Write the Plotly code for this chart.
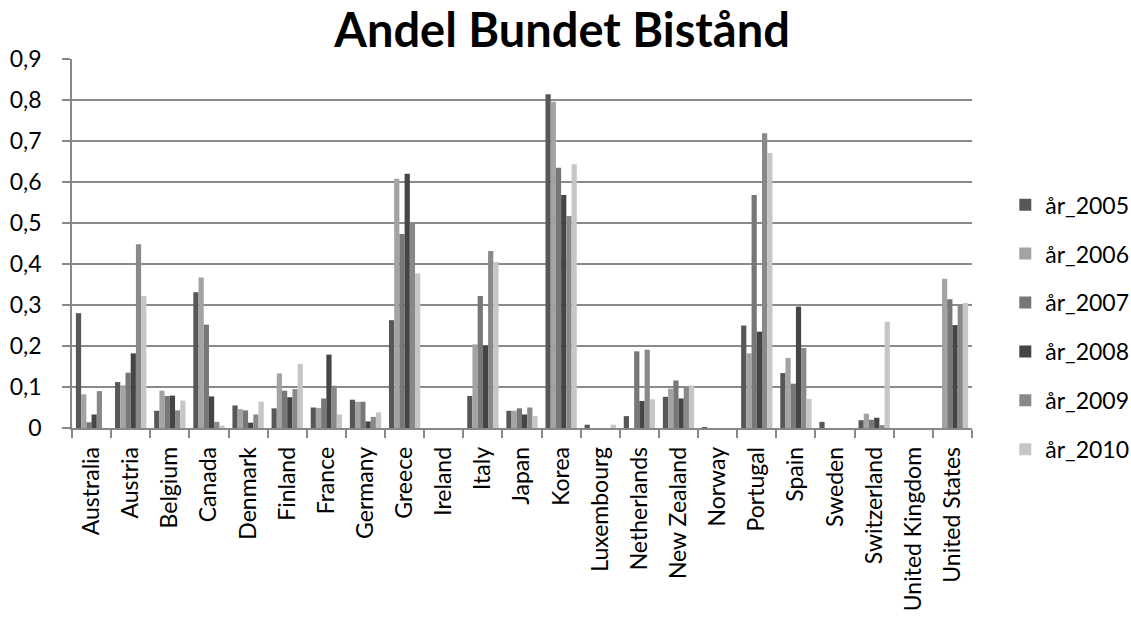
import plotly.graph_objects as go

countries = ["Australia", "Austria", "Belgium", "Canada", "Denmark", "Finland", "France",
             "Germany", "Greece", "Ireland", "Italy", "Japan", "Korea", "Luxembourg",
             "Netherlands", "New Zealand", "Norway", "Portugal", "Spain", "Sweden",
             "Switzerland", "United Kingdom", "United States"]

y2005 = [0.280, 0.112, 0.042, 0.331, 0.055, 0.048, 0.050, 0.069, 0.263, 0, 0.078, 0.042,
         0.814, 0.008, 0.029, 0.076, 0.002, 0.250, 0.134, 0.015, 0.019, 0, 0]
y2006 = [0.082, 0.104, 0.091, 0.367, 0.046, 0.133, 0.049, 0.064, 0.608, 0, 0.204, 0.042,
         0.796, 0, 0, 0.096, 0, 0.182, 0.171, 0, 0.035, 0, 0.364]
y2007 = [0.014, 0.135, 0.078, 0.252, 0.043, 0.091, 0.072, 0.064, 0.473, 0, 0.322, 0.048,
         0.635, 0, 0.187, 0.116, 0, 0.568, 0.108, 0, 0.020, 0, 0.314]
y2008 = [0.033, 0.182, 0.079, 0.077, 0.013, 0.075, 0.179, 0.016, 0.620, 0, 0.201, 0.033,
         0.568, 0, 0.066, 0.072, 0, 0.235, 0.296, 0, 0.025, 0, 0.251]
y2009 = [0.090, 0.448, 0.043, 0.015, 0.033, 0.095, 0.103, 0.027, 0.500, 0, 0.432, 0.050,
         0.517, 0, 0.191, 0.100, 0, 0.719, 0.195, 0, 0.007, 0, 0.300]
y2010 = [0, 0.322, 0.067, 0.006, 0.064, 0.156, 0.033, 0.038, 0.377, 0, 0.405, 0.029,
         0.643, 0.008, 0.070, 0.104, 0, 0.671, 0.071, 0, 0.259, 0, 0.305]

series_names = ["år_2005", "år_2006", "år_2007", "år_2008", "år_2009", "år_2010"]
series_values = [y2005, y2006, y2007, y2008, y2009, y2010]
colors = ["#575757", "#a3a3a3", "#777777", "#454545", "#898989", "#c6c6c6"]

fig = go.Figure()
for name, vals, col in zip(series_names, series_values, colors):
    fig.add_trace(go.Bar(x=countries, y=vals, name=name, legendgroup=name,
                         marker=dict(color=col, line=dict(width=0))))

FONT = "Lato"
fig.update_layout(
    width=1131, height=617,
    margin=dict(l=72, r=159, t=59, b=189, autoexpand=False),
    paper_bgcolor="white", plot_bgcolor="white",
    separators=", ",
    barmode="group", bargap=0.2, bargroupgap=0,
    font=dict(family=FONT, size=23, color="black"),
    title=dict(text="<b>Andel Bundet Bistånd</b>", font=dict(family=FONT, size=47, color="black"),
               x=0.497, xref="container", xanchor="center",
               y=0.95, yref="container", yanchor="middle"),
    legend=dict(x=1.037, xanchor="left", y=0.273, yanchor="middle",
                font=dict(family=FONT, size=23, color="black"),
                tracegroupgap=16, itemwidth=30, bgcolor="rgba(0,0,0,0)"),
    xaxis=dict(type="category", tickangle=-90, showgrid=False, automargin=False,
               showline=True, linecolor="#888888", linewidth=1.5,
               ticks="outside", tickson="boundaries", ticklen=8, tickcolor="#888888", tickwidth=1.5,
               ticklabelstandoff=8,
               tickfont=dict(family=FONT, size=23, color="black")),
    yaxis=dict(range=[0, 0.9], dtick=0.1, tick0=0, showgrid=True, automargin=False,
               gridcolor="#8a8a8a", gridwidth=1.5, zeroline=False,
               showline=True, linecolor="#888888", linewidth=1.5,
               ticks="outside", ticklen=8, tickcolor="#888888", tickwidth=1.5,
               ticklabelstandoff=16,
               tickfont=dict(family=FONT, size=23, color="black")),
)

fig.write_html("out.html", config={"displayModeBar": False},
               post_script="document.body.style.margin='0';")
